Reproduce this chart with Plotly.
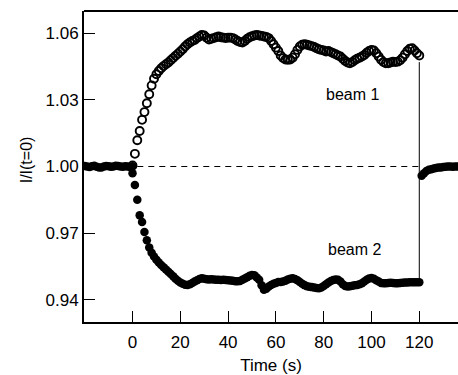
import plotly.graph_objects as go

# ---------------- data ----------------
t_pre = list(range(-20, 1))
pre_vals = [1.0002, 1.0000, 0.9998, 1.0001, 1.0003, 0.9999, 0.9995, 0.9996, 1.0000,
            1.0002, 1.0001, 0.9999, 1.0000, 1.0003, 1.0002, 1.0000, 0.9999, 1.0001,
            1.0000, 0.9998, 1.0001]

t_beam = list(range(0, 121))
beam1 = [1.0005, 1.0057, 1.0118, 1.0160, 1.0210, 1.0245, 1.0285, 1.0325, 1.0365, 1.0395,
         1.0415, 1.0430, 1.0442, 1.0452, 1.0460, 1.0468, 1.0478, 1.0488, 1.0498, 1.0508,
         1.0518, 1.0528, 1.0540, 1.0550, 1.0558, 1.0565, 1.0570, 1.0578, 1.0585, 1.0592,
         1.0590, 1.0580, 1.0572, 1.0575, 1.0578, 1.0582, 1.0585, 1.0582, 1.0580, 1.0578,
         1.0580, 1.0580, 1.0578, 1.0572, 1.0565, 1.0560, 1.0558, 1.0565, 1.0575, 1.0582,
         1.0586, 1.0590, 1.0592, 1.0590, 1.0588, 1.0585, 1.0583, 1.0578, 1.0565, 1.0550,
         1.0535, 1.0520, 1.0500, 1.0488, 1.0482, 1.0480, 1.0482, 1.0490, 1.0505, 1.0525,
         1.0540, 1.0548, 1.0550, 1.0548, 1.0545, 1.0542, 1.0538, 1.0532, 1.0528, 1.0525,
         1.0522, 1.0518, 1.0520, 1.0515, 1.0510, 1.0505, 1.0500, 1.0495, 1.0485, 1.0475,
         1.0468, 1.0465, 1.0470, 1.0478, 1.0485, 1.0490, 1.0495, 1.0502, 1.0512, 1.0520,
         1.0525, 1.0522, 1.0510, 1.0495, 1.0480, 1.0470, 1.0465, 1.0465, 1.0468, 1.0472,
         1.0470, 1.0472, 1.0478, 1.0490, 1.0505, 1.0520, 1.0530, 1.0532, 1.0522, 1.0510,
         1.0500]
beam2 = [0.9970, 0.9917, 0.9850, 0.9780, 0.9750, 0.9705, 0.9668, 0.9635, 0.9612, 0.9595,
         0.9580, 0.9568, 0.9557, 0.9546, 0.9536, 0.9526, 0.9516, 0.9506, 0.9495, 0.9486,
         0.9478, 0.9472, 0.9468, 0.9467, 0.9470, 0.9476, 0.9482, 0.9488, 0.9494, 0.9497,
         0.9495, 0.9492, 0.9491, 0.9492, 0.9491, 0.9490, 0.9490, 0.9489, 0.9490, 0.9489,
         0.9488, 0.9487, 0.9486, 0.9484, 0.9483, 0.9485, 0.9490, 0.9496, 0.9502, 0.9508,
         0.9512, 0.9510, 0.9500, 0.9490, 0.9465, 0.9445, 0.9450, 0.9460, 0.9467, 0.9472,
         0.9476, 0.9480, 0.9480, 0.9482, 0.9486, 0.9491, 0.9495, 0.9497, 0.9494, 0.9488,
         0.9480, 0.9472, 0.9466, 0.9461, 0.9459, 0.9457, 0.9455, 0.9453, 0.9452, 0.9455,
         0.9462, 0.9470, 0.9478, 0.9485, 0.9489, 0.9491, 0.9490, 0.9482, 0.9470, 0.9462,
         0.9460, 0.9461, 0.9463, 0.9465, 0.9467, 0.9470, 0.9475, 0.9482, 0.9490, 0.9496,
         0.9498, 0.9495, 0.9488, 0.9482, 0.9476, 0.9474, 0.9474, 0.9476, 0.9477, 0.9476,
         0.9475, 0.9475, 0.9476, 0.9477, 0.9478, 0.9478, 0.9479, 0.9479, 0.9479, 0.9479,
         0.9479]

t_post = list(range(121, 138))
post_vals = [0.9958, 0.9970, 0.9980, 0.9985, 0.9988, 0.9991, 0.9993, 0.9995, 0.9996,
             0.9998, 0.9999, 1.0000, 1.0000, 0.9999, 1.0000, 1.0000, 1.0000]

x_ticks = [0, 20, 40, 60, 80, 100, 120]
y_ticks = [0.94, 0.97, 1.00, 1.03, 1.06]
y_tick_text = ["0.94", "0.97", "1.00", "1.03", "1.06"]
labels = ["beam 1", "beam 2"]
label_x = [92, 93]
label_y = [1.0325, 0.9625]
baseline = 1.00
switch_t = 120

FONT = "Liberation Sans, Arial, sans-serif"

fig = go.Figure()

# dashed baseline
fig.add_trace(go.Scatter(x=[2, switch_t], y=[baseline, baseline], mode="lines",
                         line=dict(color="black", width=1, dash="6px,5px"),
                         hoverinfo="skip", showlegend=False))
# vertical line at switch-off
fig.add_trace(go.Scatter(x=[switch_t, switch_t], y=[beam2[-1], beam1[-1] - 0.003], mode="lines",
                         line=dict(color="black", width=1),
                         hoverinfo="skip", showlegend=False))

filled = dict(symbol="circle", size=8.5, color="black")
fig.add_trace(go.Scatter(x=t_pre, y=pre_vals, mode="markers", marker=filled,
                         cliponaxis=True, showlegend=False))
fig.add_trace(go.Scatter(x=t_beam, y=beam2, mode="markers", marker=filled, showlegend=False))
fig.add_trace(go.Scatter(x=t_post, y=post_vals, mode="markers", marker=filled,
                         cliponaxis=True, showlegend=False))
fig.add_trace(go.Scatter(x=t_beam, y=beam1, mode="markers",
                         marker=dict(symbol="circle-open", size=8, color="black",
                                     line=dict(width=1.9, color="black")),
                         showlegend=False))

for txt, lx, ly in zip(labels, label_x, label_y):
    fig.add_annotation(x=lx, y=ly, text=txt, showarrow=False,
                       font=dict(family=FONT, size=16, color="black"))

fig.add_annotation(xref="paper", yref="paper", x=-0.155, y=0.52, xanchor="center",
                   yanchor="middle", text="I/I(t=0)", textangle=-90, showarrow=False,
                   font=dict(family=FONT, size=16, color="black"))

# top frame line
fig.add_shape(type="line", xref="paper", yref="paper", x0=0, x1=1, y0=1, y1=1,
              line=dict(color="black", width=2))

fig.update_layout(
    width=458, height=375,
    margin=dict(l=84, r=0, t=11, b=53),
    paper_bgcolor="white", plot_bgcolor="white",
    font=dict(family=FONT, size=17, color="black"),
    xaxis=dict(range=[-20.3, 136.2], tickvals=x_ticks, ticks="inside", ticklen=11,
               tickwidth=1, tickcolor="black", showline=True, linecolor="black",
               linewidth=2, showgrid=False, zeroline=False, ticklabelstandoff=4,
               title=dict(text="Time (s)", font=dict(size=17), standoff=10)),
    yaxis=dict(range=[0.930, 1.070], tickvals=y_ticks, ticktext=y_tick_text,
               ticks="inside", ticklen=11, tickwidth=1, tickcolor="black",
               showline=True, linecolor="black", linewidth=2, showgrid=False,
               zeroline=False),
)

fig.write_html("out.html")
